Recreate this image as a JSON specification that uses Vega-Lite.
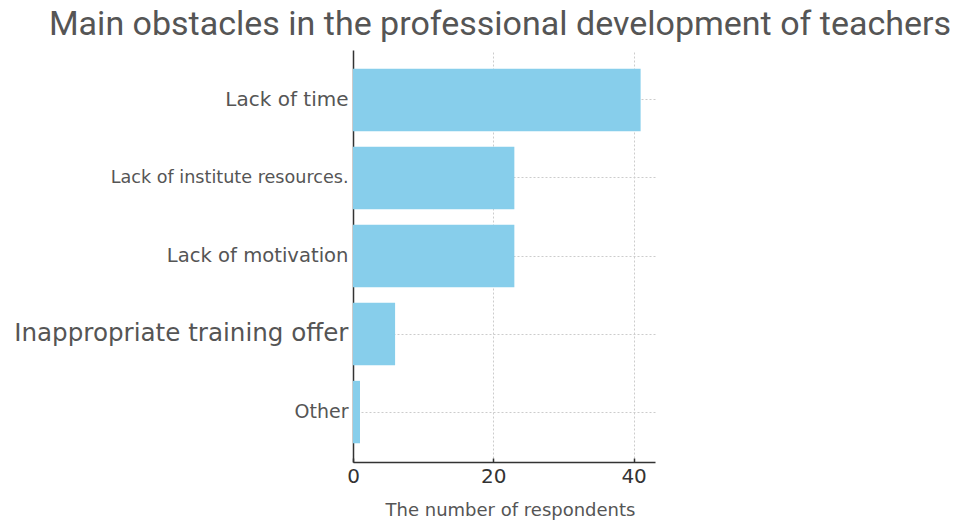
{
  "$schema": "https://vega.github.io/schema/vega-lite/v6.json",
  "width": 302,
  "height": 412,
  "autosize": {"type": "none"},
  "padding": {"left": 353, "top": 50, "right": 306, "bottom": 58},
  "background": "white",
  "title": {
    "text": "Main obstacles in the professional development of teachers",
    "font": "Roboto",
    "fontSize": 34,
    "fontWeight": "normal",
    "color": "#555555",
    "anchor": "middle",
    "dx": -4,
    "offset": 8
  },
  "config": {"view": {"stroke": null}},
  "data": {
    "values": [
      {"obstacle": "Lack of time", "count": 41},
      {"obstacle": "Lack of institute resources.", "count": 23},
      {"obstacle": "Lack of motivation", "count": 23},
      {"obstacle": "Inappropriate training offer", "count": 6},
      {"obstacle": "Other", "count": 1}
    ]
  },
  "mark": {"type": "bar", "color": "#87CEEB"},
  "encoding": {
    "y": {
      "field": "obstacle",
      "type": "nominal",
      "sort": null,
      "scale": {"paddingInner": 0.2, "paddingOuter": 0.24},
      "axis": {
        "title": null,
        "domainColor": "#333333",
        "domainWidth": 1.5,
        "tickColor": "#333333",
        "tickSize": -4,
        "tickWidth": 1.5,
        "labelFont": "DejaVu Sans",
        "labelColor": "#555555",
        "labelPadding": 9,
        "labelLimit": 400,
        "labelFontSize": {"expr": "datum.value == 'Inappropriate training offer' ? 24.6 : datum.value == 'Lack of institute resources.' ? 17.6 : datum.value == 'Other' ? 19 : datum.value == 'Lack of motivation' ? 19.6 : 20"},
        "grid": true,
        "gridColor": "#cccccc",
        "gridDash": [2, 2],
        "gridWidth": 1
      }
    },
    "x": {
      "field": "count",
      "type": "quantitative",
      "scale": {"domain": [0, 43.05], "nice": false, "zero": true},
      "axis": {
        "title": "The number of respondents",
        "titleFont": "DejaVu Sans",
        "titleFontSize": 18,
        "titleFontWeight": "normal",
        "titleColor": "#555555",
        "titlePadding": 15,
        "titleX": 157,
        "values": [0, 20, 40],
        "labelFlush": false,
        "domainColor": "#333333",
        "domainWidth": 1.5,
        "tickColor": "#333333",
        "tickSize": -4,
        "tickWidth": 1.5,
        "labelFont": "DejaVu Sans",
        "labelFontSize": 20,
        "labelColor": "#333333",
        "labelPadding": 8,
        "grid": true,
        "gridColor": "#cccccc",
        "gridDash": [2, 2],
        "gridWidth": 1
      }
    }
  }
}
